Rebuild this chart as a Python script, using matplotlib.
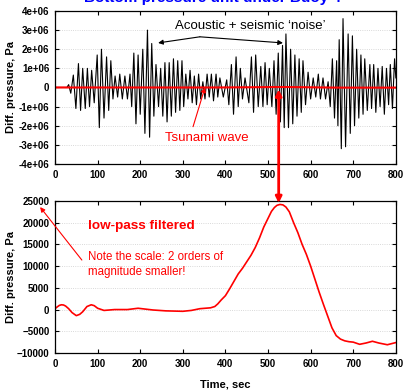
import numpy as np
import matplotlib.pyplot as plt
from matplotlib.ticker import FuncFormatter

plt.rcParams['font.family'] = ['Liberation Sans', 'DejaVu Sans']

# сырой сигнал: экстремумы (время, сек; давление, 1e6 Па)
noise_t = [0, 28, 32, 37, 43, 49, 55, 60, 65, 71, 76, 81, 86, 92, 99, 104, 109, 115,
           121, 126, 131, 136, 141, 147, 152, 158, 164, 170, 176, 180, 185, 190, 195,
           200, 206, 211, 217, 222, 227, 232, 237, 243, 248, 253, 258, 263, 268, 273,
           278, 283, 288, 293, 298, 302, 307, 312, 317, 322, 327, 332, 337, 342, 347,
           352, 357, 362, 367, 372, 378, 382, 387, 395, 403, 408, 414, 419, 425, 430,
           435, 440, 446, 455, 461, 466, 471, 477, 483, 488, 493, 498, 503, 509, 514,
           519, 524, 529, 534, 538, 542, 548, 553, 558, 563, 568, 573, 578, 582, 588,
           594, 600, 606, 612, 618, 623, 629, 635, 641, 646, 651, 656, 661, 664, 667,
           672, 676, 682, 688, 693, 698, 703, 708, 713, 718, 723, 727, 733, 739, 743,
           748, 753, 758, 763, 768, 773, 778, 783, 787, 792, 797, 800]
noise_v = [0, 0, 0.15, -0.3, 0.65, -1.1, 1.25, -1.2, 1.0, -1.1, 1.0, -1.0, 0.9, -0.8,
           1.7, -2.1, 2.0, -1.6, 1.6, -1.2, 1.4, -0.6, 0.6, -0.5, 0.7, -0.6, 0.6, -0.6,
           0.7, -1.0, 1.8, -1.9, 1.7, -1.4, 2.0, -2.4, 3.0, -2.6, 2.3, -1.5, 1.2, -1.0,
           1.0, -1.5, 1.3, -1.8, 1.3, -1.5, 1.5, -1.3, 1.4, -1.2, 1.4, -1.0, 0.7, -0.6,
           0.9, -0.8, 0.6, -0.9, 0.7, -0.6, 0.3, -0.6, 0.7, -0.5, 0.7, -0.7, 0.7, -0.5,
           0.5, -0.5, 0.4, -0.9, 1.2, -1.4, 1.6, -1.0, 1.0, -0.6, 0.5, -0.8, 1.6, -1.3,
           1.7, -1.0, 1.1, -1.0, 1.3, -0.9, 1.0, -1.0, 1.4, -1.4, 1.8, -1.8, 2.2, -2.1,
           2.8, -2.1, 2.0, -1.9, 1.7, -1.5, 1.5, -1.3, 1.4, -0.9, 0.8, -0.6, 0.5, -0.5,
           0.7, -0.6, 0.5, -0.6, 0.3, -1.0, 1.5, -1.6, 1.4, -2.0, 2.5, -3.2, 3.6, -3.1,
           2.8, -2.4, 2.7, -2.0, 2.0, -1.6, 1.7, -1.4, 1.5, -1.2, 1.2, -1.1, 1.2, -1.3,
           1.0, -1.0, 1.1, -1.4, 1.0, -0.9, 1.2, -1.1, 1.5, 0.5]

# отфильтрованный сигнал (Па)
filt_t = [0, 5, 10, 15, 20, 25, 32, 40, 50, 58, 65, 75, 85, 92, 100, 115, 140, 170,
          195, 230, 260, 300, 320, 340, 365, 375, 382, 390, 400, 410, 420, 430, 440,
          450, 460, 470, 480, 490, 500, 508, 515, 521, 528, 535, 542, 550, 560, 570,
          580, 590, 600, 610, 620, 630, 640, 650, 660, 670, 680, 690, 700, 715, 730,
          745, 760, 780, 800]
filt_v = [200, 600, 950, 1100, 1050, 800, 200, -700, -1400, -1100, -500, 700, 1100,
          900, 300, -200, 0, 0, 300, -100, -300, -400, -200, 200, 400, 700, 1300,
          2200, 3200, 4800, 6500, 8200, 9500, 11000, 12500, 14300, 16500, 19000,
          21000, 22600, 23500, 24000, 24200, 24100, 23600, 22500, 20000, 17700,
          15000, 12700, 10000, 7000, 4000, 1200, -1500, -4200, -6000, -6800, -7200,
          -7400, -7500, -8000, -7700, -7300, -7700, -8100, -7600]

noise_t = np.array(noise_t)
noise_v = np.array(noise_v) * 1e6

fig = plt.figure(figsize=(4.06, 3.91), dpi=100)
ax1 = fig.add_axes([0.1355, 0.5806, 0.8395, 0.3913])
ax2 = fig.add_axes([0.1355, 0.0972, 0.8395, 0.3888])

ax1.plot(noise_t, noise_v, color='black', lw=0.8)
ax1.plot(filt_t, filt_v, color='red', lw=1.5)
ax2.plot(filt_t, filt_v, color='red', lw=1.2)

ax1.set_ylim(-4e6, 4e6)
ax1.set_yticks(np.arange(-4e6, 4.1e6, 1e6))
ax1.yaxis.set_major_formatter(FuncFormatter(lambda v, p: '0' if v == 0 else f'{v:.0e}'))
ax2.set_ylim(-10000, 25000)
ax2.set_yticks(range(-10000, 25001, 5000))

for ax in (ax1, ax2):
    ax.set_xlim(0, 800)
    ax.set_xticks(range(0, 801, 100))
    ax.tick_params(direction='in', top=True, right=True, length=3, width=0.8,
                   labelsize=7, pad=4)
    for lab in ax.get_xticklabels() + ax.get_yticklabels():
        lab.set_fontweight('bold')
    ax.grid(axis='y', color='#cccccc', linestyle=':', lw=0.6)
    ax.set_ylabel('Diff. pressure, Pa', fontsize=8, fontweight='bold')
    ax.yaxis.set_label_coords(-0.115, 0.5)
    for s in ax.spines.values():
        s.set_linewidth(0.9)

ax2.set_xlabel('Time, sec', fontsize=8, fontweight='bold', labelpad=8)

fig.text(0.523, 0.994, 'Bottom pressure unit under Buoy 4', color='blue',
         fontsize=11, fontweight='bold', ha='center', va='baseline')

# подписи верхнего графика
ax1.text(458, 3.2e6, 'Acoustic + seismic \u2018noise\u2019', ha='center', va='center',
         fontsize=9.5)
for tx in (242, 535):
    ax1.annotate('', xy=(tx, 2.33e6), xytext=(340, 2.65e6),
                 arrowprops=dict(arrowstyle='-|>', color='black', lw=0.8,
                                 mutation_scale=7, shrinkA=0, shrinkB=0))
ax1.text(356, -2.65e6, 'Tsunami wave', color='red', ha='center', va='center',
         fontsize=9.5)
ax1.annotate('', xy=(352, 0), xytext=(324, -2.05e6),
             arrowprops=dict(arrowstyle='-|>', color='red', lw=0.8,
                             mutation_scale=7, shrinkA=0, shrinkB=0))

# большая красная стрелка между графиками
ax2.annotate('', xy=(525, 24500), xytext=(525, -0.1e6), xycoords='data',
             textcoords=ax1.transData, annotation_clip=False,
             arrowprops=dict(arrowstyle='<|-|>', color='red', lw=2,
                             mutation_scale=9, shrinkA=0, shrinkB=0))

# подписи нижнего графика
ax2.text(78, 19300, 'low-pass filtered', color='red', fontsize=9.7,
         fontweight='bold', va='center')
ax2.text(78, 13500, 'Note the scale: 2 orders of\nmagnitude smaller!', color='red',
         fontsize=8.3, va='top', linespacing=1.3)
ax2.annotate('', xy=(-35, 23600), xytext=(63, 11400), annotation_clip=False,
             arrowprops=dict(arrowstyle='-|>', color='red', lw=0.8,
                             mutation_scale=7, shrinkA=0, shrinkB=0))

fig.savefig('out.png', dpi=100)
